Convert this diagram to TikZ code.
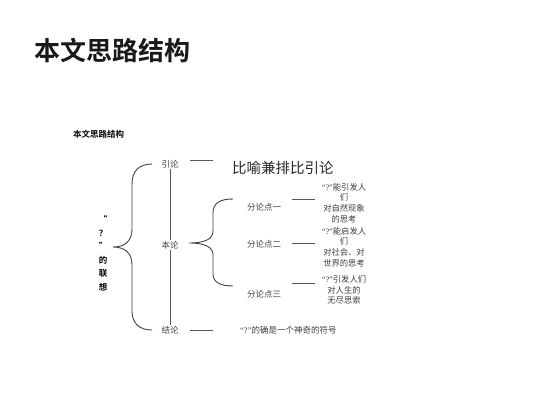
\documentclass[tikz,border=0pt]{standalone}
\usepackage{fontspec}
\setmainfont{Noto Sans CJK SC}
\newfontfamily\cjkbold{Noto Sans CJK SC Bold}
\newfontfamily\lat{Liberation Serif}
\newcommand{\qm}{{\lat “?”}}
\begin{document}
\begin{tikzpicture}[x=1pt,y=-1pt,
  lbl/.style={font=\fontsize{8.5}{10}\selectfont, text=black!75, inner sep=1pt},
  blk/.style={font=\fontsize{8.3}{10.6}\selectfont, text=black!75, align=center, inner sep=0pt},
  ln/.style={draw=black!65, line width=0.6pt},
  brace/.style={draw=black!75, line width=0.9pt}]
\useasboundingbox (0,0) rectangle (533,400);
\fill[white] (0,0) rectangle (533,400);
% titles
\node[font=\cjkbold\fontsize{26}{30}\selectfont, anchor=west, inner sep=0pt, text=black!90] (title) at (34,50) {本文思路结构};
\node[font=\cjkbold\fontsize{8.5}{10}\selectfont, anchor=west, inner sep=0pt] (sub) at (73,134) {本文思路结构};
% left vertical label
\node[font=\cjkbold\fontsize{8.5}{13.5}\selectfont, align=center, inner sep=0pt] (assoc) at (103,253) {“\\？\\”\\的\\联\\想};
% level 1
\node[lbl] (yin) at (170,164) {引论};
\node[lbl] (ben) at (170,245) {本论};
\node[lbl] (jie) at (170,330) {结论};
\draw[ln] (yin.south) -- (ben.north);
\draw[ln] (ben.south) -- (jie.north);
% big brace
\coordinate (b1) at (152,164);
\coordinate (bt) at (113,247);
\coordinate (b2) at (152,330);
\draw[brace] (b1) .. controls (139,164) and (132,171) .. (132,184) -- (132,229)
  .. controls (132,240) and (126,247) .. (bt)
  .. controls (126,247) and (132,254) .. (132,265) -- (132,311)
  .. controls (132,323) and (139,330) .. (b2);
% intro
\coordinate (l1a) at (190,160);
\coordinate (l1b) at (213,160);
\draw[ln] (l1a) -- (l1b);
\node[font=\fontsize{14.5}{16}\selectfont, anchor=west, inner sep=0pt, text=black!85] (bi) at (232,168) {比喻兼排比引论};
% conclusion
\coordinate (l3a) at (190,330);
\coordinate (l3b) at (213,330);
\draw[ln] (l3a) -- (l3b);
\node[lbl, anchor=west] (fuhao) at (239,330) {\qm 的确是一个神奇的符号};
% second brace
\coordinate (c1) at (233,199);
\coordinate (ct) at (189,243);
\coordinate (c2) at (233,286);
\draw[brace] (c1) .. controls (220,199) and (213,203) .. (213,213) -- (213,231)
  .. controls (213,239) and (205,243) .. (ct)
  .. controls (205,243) and (213,247) .. (213,255) -- (213,274)
  .. controls (213,282) and (220,286) .. (c2);
% sub points
\node[lbl] (f1) at (264,207) {分论点一};
\node[lbl] (f2) at (264,244) {分论点二};
\node[lbl] (f3) at (264,294) {分论点三};
\coordinate (m1a) at (292,199); \coordinate (m1b) at (315,199);
\coordinate (m2a) at (292,243); \coordinate (m2b) at (315,243);
\coordinate (m3a) at (292,283); \coordinate (m3b) at (315,283);
\draw[ln] (m1a) -- (m1b);
\draw[ln] (m2a) -- (m2b);
\draw[ln] (m3a) -- (m3b);
\node[blk] (t1) at (344,203) {\qm 能引发人\\们\\对自然现象\\的思考};
\node[blk] (t2) at (344,247) {\qm 能启发人\\们\\对社会、对\\世界的思考};
\node[blk] (t3) at (344,290) {\qm 引发人们\\对人生的\\无尽思索};
\end{tikzpicture}
\end{document}
